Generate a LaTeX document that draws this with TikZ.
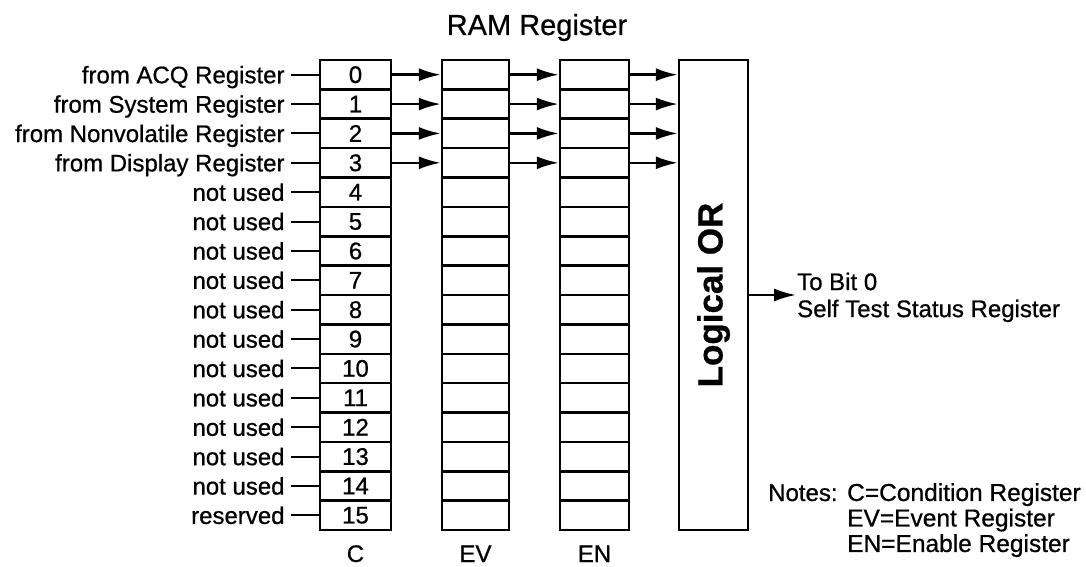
\documentclass[tikz,border=0pt]{standalone}
\usepackage{fontspec}
\setmainfont{Liberation Sans}[FakeBold=0.7]
\usetikzlibrary{arrows.meta}
\begin{document}
\begin{tikzpicture}[x=1pt,y=-1pt,
  txt/.style={font=\fontsize{24}{27}\selectfont},
  cell/.style={draw, line width=2.5pt, minimum height=29.375pt, inner sep=0pt, txt},
  lbl/.style={inner sep=0pt, txt},
  arr/.style={line width=2.4pt, -{Latex[length=22pt,width=13pt]}},
  wire/.style={line width=2pt}]
\useasboundingbox (0,0) rectangle (1086,567);
\fill[white] (0,0) rectangle (1086,567);

\node[font=\fontsize{29}{34}\selectfont, anchor=base, inner sep=0pt] (title) at (537,35) {RAM Register};

\foreach \i in {0,...,15} {
  \pgfmathsetmacro{\yc}{74.6875+29.375*\i}
  \node[cell, minimum width=71pt] (c\i) at (355.5,\yc) {\i};
  \node[cell, minimum width=67pt] (ev\i) at (475.5,\yc) {};
  \node[cell, minimum width=69pt] (en\i) at (594.5,\yc) {};
}

\node[draw, line width=2.5pt, minimum width=69pt, minimum height=470pt, inner sep=0pt] (or) at (713.5,295) {};
\node[rotate=90, inner sep=0pt, font=\bfseries\fontsize{35}{40}\selectfont] (ortext) at (or.center) {Logical OR};

\foreach \i/\t in {0/{from ACQ Register},1/{from System Register},2/{from Nonvolatile Register},3/{from Display Register},
  4/{not used},5/{not used},6/{not used},7/{not used},8/{not used},9/{not used},10/{not used},11/{not used},12/{not used},13/{not used},14/{not used},15/{reserved}} {
  \node[lbl, anchor=base east, xshift=-34pt, yshift=-8.6pt] (l\i) at (c\i.west) {\t};
  \draw[wire] ([xshift=6pt]l\i.east |- c\i.west) -- (c\i.west);
}

\foreach \i in {0,...,3} {
  \draw[arr] (c\i.east) -- (ev\i.west);
  \draw[arr] (ev\i.east) -- (en\i.west);
  \draw[arr] (en\i.east) -- (en\i.east -| or.west);
}

\coordinate (out) at (796,295);
\draw[arr] (or.east) -- (out);
\node[lbl, anchor=north west, align=left] (dest) at (797,272.5) {To Bit 0\\Self Test Status Register};

\node[lbl, anchor=base] (labC) at (355.5,562) {C};
\node[lbl, anchor=base] (labEV) at (475.5,562) {EV};
\node[lbl, anchor=base] (labEN) at (594.5,562) {EN};

\node[lbl, anchor=base west] (notes) at (768,501) {Notes:};
\node[lbl, anchor=north west, align=left, font=\fontsize{24.5}{25.5}\selectfont] (notelist) at (847,483) {C=Condition Register\\EV=Event Register\\EN=Enable Register};
\end{tikzpicture}
\end{document}
